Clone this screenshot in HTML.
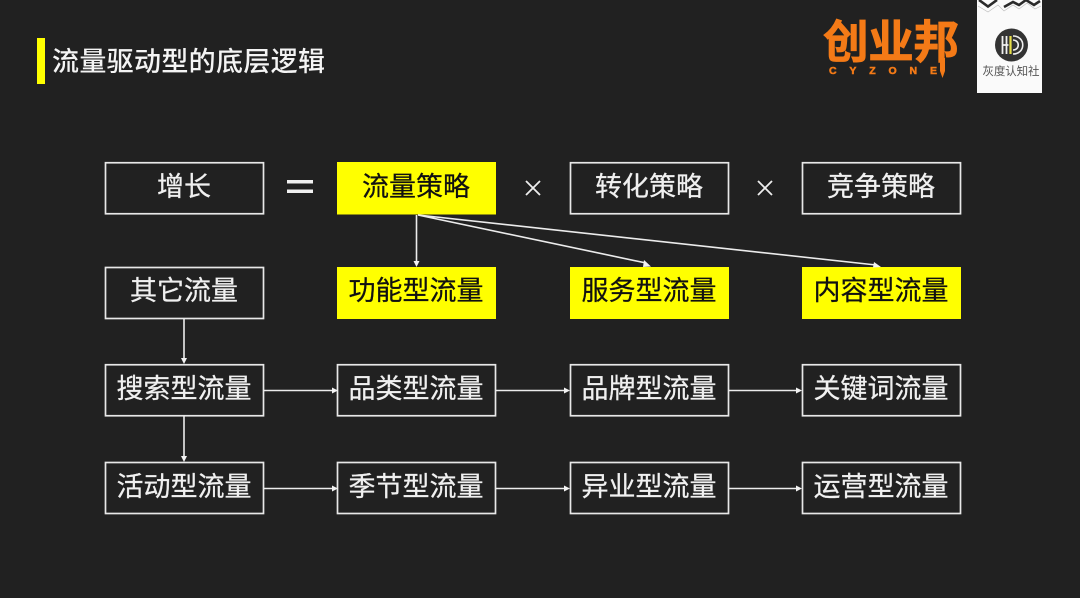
<!DOCTYPE html>
<html lang="zh"><head><meta charset="utf-8"><style>
html,body{margin:0;padding:0;background:#212121;width:1080px;height:598px;overflow:hidden}
svg{display:block}
text{font-family:"Liberation Sans","Noto Sans CJK SC",sans-serif}
.t{font-size:27px;fill:#f0f0f0;text-anchor:middle;stroke:#f0f0f0;stroke-width:.25}
.k{font-size:27px;fill:#111;text-anchor:middle;stroke:#111;stroke-width:.25}
.b{fill:none;stroke:#e8e8e8;stroke-width:1.700}
.y{fill:#ffff00}
.l{stroke:#ececec;stroke-width:1.600;fill:none}
.a{fill:#f2f2f2}
</style></head><body>
<svg width="1080" height="598" viewBox="0 0 1080 598" xmlns="http://www.w3.org/2000/svg">
<rect width="1080" height="598" fill="#212121"/>
<rect x="37" y="38" width="8" height="46" class="y"/>
<text x="52" y="71" font-size="27" font-weight="500" fill="#f4f4f4" textLength="273" lengthAdjust="spacing">流量驱动型的底层逻辑</text>

<!-- logo -->
<text x="823" y="58" font-size="45.500" font-weight="700" fill="#f47a17" stroke="#f47a17" stroke-width=".8" textLength="136" lengthAdjust="spacing">创业邦</text>
<text x="829" y="74" font-size="10.500" font-weight="700" fill="#f47a17" stroke="#f47a17" stroke-width=".5" textLength="108" lengthAdjust="spacing">CYZONE</text>
<path d="M940 58h5v13l-2.500 7-2.500-7z" fill="#f47a17"/>
<rect x="977" y="0" width="65" height="93" fill="#fafafa"/>
<path d="M979 0l9 6.500 9-6.500M1004 7l9-5 6 3 7-5M1026 0l8 5 6-4" fill="none" stroke="#2a2a2a" stroke-width="2.600"/>
<path d="M978 6l10 6 10-7 6 6 9-6 6 4 8-6 8 6 6-3" fill="none" stroke="#bbb" stroke-width=".6"/>
<circle cx="1011.500" cy="45" r="16.500" fill="#333"/>
<path d="M1002.500 36v18M1006.500 36v18M1002.500 45h6" stroke="#f0f0f0" stroke-width="1.800" fill="none"/>
<path d="M1010.500 36v18" stroke="#e8e04a" stroke-width="2.200"/>
<path d="M1013 36c13 0 13 18 0 18M1013 40c7 0 7 10 0 10" stroke="#f0f0f0" stroke-width="1.600" fill="none"/>
<text x="1011" y="75" font-size="11.500" fill="#555" text-anchor="middle" textLength="57" lengthAdjust="spacing">灰度认知社</text>

<!-- row 1 -->
<rect x="105.500" y="162.750" width="158" height="51" class="b"/>
<text x="184" y="196" class="t">增长</text>
<rect x="287" y="180" width="26" height="3.500" fill="#f0f0f0"/>
<rect x="287" y="189.500" width="26" height="3.500" fill="#f0f0f0"/>
<rect x="337" y="162" width="159" height="52.500" class="y"/>
<text x="416" y="196" class="k">流量策略</text>
<path d="M526 181l14 14M540 181l-14 14" stroke="#eee" stroke-width="1.800"/>
<rect x="570.500" y="162.750" width="158" height="51" class="b"/>
<text x="649" y="196" class="t">转化策略</text>
<path d="M758 181l14 14M772 181l-14 14" stroke="#eee" stroke-width="1.800"/>
<rect x="802.500" y="162.750" width="158" height="51" class="b"/>
<text x="881" y="196" class="t">竞争策略</text>

<!-- row 2 -->
<rect x="105.500" y="267.500" width="158" height="51" class="b"/>
<text x="184" y="300" class="t">其它流量</text>
<rect x="337" y="267" width="159" height="52" class="y"/>
<text x="416" y="300" class="k">功能型流量</text>
<rect x="570" y="267" width="159" height="52" class="y"/>
<text x="649" y="300" class="k">服务型流量</text>
<rect x="802" y="267" width="159" height="52" class="y"/>
<text x="881" y="300" class="k">内容型流量</text>

<!-- row 3 -->
<rect x="105.500" y="364.750" width="158" height="51" class="b"/>
<text x="184" y="398" class="t">搜索型流量</text>
<rect x="337.500" y="364.750" width="158" height="51" class="b"/>
<text x="416" y="398" class="t">品类型流量</text>
<rect x="570.500" y="364.750" width="158" height="51" class="b"/>
<text x="649" y="398" class="t">品牌型流量</text>
<rect x="802.500" y="364.750" width="158" height="51" class="b"/>
<text x="881" y="398" class="t">关键词流量</text>

<!-- row 4 -->
<rect x="105.500" y="462.500" width="158" height="51" class="b"/>
<text x="184" y="496" class="t">活动型流量</text>
<rect x="337.500" y="462.500" width="158" height="51" class="b"/>
<text x="416" y="496" class="t">季节型流量</text>
<rect x="570.500" y="462.500" width="158" height="51" class="b"/>
<text x="649" y="496" class="t">异业型流量</text>
<rect x="802.500" y="462.500" width="158" height="51" class="b"/>
<text x="881" y="496" class="t">运营型流量</text>

<!-- connectors -->
<path class="l" d="M416.500 215V262M418 215L646 263M418 215L876 265"/>
<path class="a" d="M413.500 261h6l-3 6zM644 260l7 6.500-8 .5zM874 262l7 5-8 .5z"/>
<path class="l" d="M184 319V359M184 416V457"/>
<path class="a" d="M181 358h6l-3 6zM181 456h6l-3 6z"/>
<path class="l" d="M264 390.500H333M496 390.500H565M729 390.500H797M264 488.500H333M496 488.500H565M729 488.500H797"/>
<path class="a" d="M332 387.500v6l6-3zM564 387.500v6l6-3zM796 387.500v6l6-3zM332 485.500v6l6-3zM564 485.500v6l6-3zM796 485.500v6l6-3z"/>
</svg>
</body></html>
